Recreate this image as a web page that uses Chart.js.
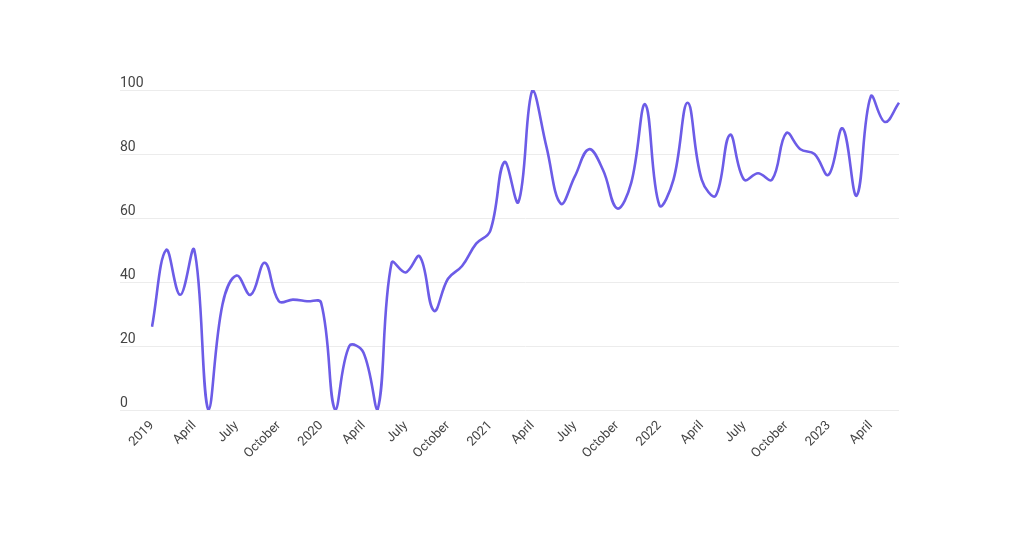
<!DOCTYPE html>
<html lang="en">
  <head>
    <meta charset="UTF-8" />
    <title>Monthly index 2019-2023</title>
    <script src="https://cdn.jsdelivr.net/npm/chart.js"></script>
    <style>
      body { margin: 0; background: #fff; }
    </style>
  </head>
  <body>
    <canvas id="trendChart" width="1024" height="536"></canvas>

    <script>
      // one entry per month, Jan 2019 .. Jun 2023
      const months = [
        "2019-01", "2019-02", "2019-03", "2019-04", "2019-05", "2019-06",
        "2019-07", "2019-08", "2019-09", "2019-10", "2019-11", "2019-12",
        "2020-01", "2020-02", "2020-03", "2020-04", "2020-05", "2020-06",
        "2020-07", "2020-08", "2020-09", "2020-10", "2020-11", "2020-12",
        "2021-01", "2021-02", "2021-03", "2021-04", "2021-05", "2021-06",
        "2021-07", "2021-08", "2021-09", "2021-10", "2021-11", "2021-12",
        "2022-01", "2022-02", "2022-03", "2022-04", "2022-05", "2022-06",
        "2022-07", "2022-08", "2022-09", "2022-10", "2022-11", "2022-12",
        "2023-01", "2023-02", "2023-03", "2023-04", "2023-05", "2023-06",
      ];

      const values = [
        26, 50, 36, 50, 0, 33, 42, 36, 46, 34, 34.5, 34,
        33.5, 0, 20, 18, 0, 46, 43, 48, 31, 41, 45, 52,
        56, 77.5, 65, 100, 82, 64.5, 73, 81.5, 75, 63, 71, 95.5,
        64, 72, 96, 72, 67, 86, 72, 74, 72, 86.5, 81.5, 80,
        73.5, 88, 67, 98, 90, 96,
      ];

      // shown on every third month
      const tickLabels = [
        "2019", "April", "July", "October",
        "2020", "April", "July", "October",
        "2021", "April", "July", "October",
        "2022", "April", "July", "October",
        "2023", "April",
      ];

      const yTicks = [0, 20, 40, 60, 80, 100];

      const ctx = document.getElementById("trendChart").getContext("2d");
      new Chart(ctx, {
        type: "line",
        data: {
          labels: months,
          datasets: [
            {
              data: values,
              borderColor: "#6c5ce7",
              borderWidth: 2.6,
              pointRadius: 0,
              tension: 0.4,
              fill: false,
            },
          ],
        },
        options: {
          responsive: false,
          animation: false,
          layout: { padding: { left: 120, right: 125, top: 90, bottom: 0 } },
          plugins: {
            legend: { display: false },
            tooltip: { enabled: false },
          },
          scales: {
            x: {
              grid: { display: false, drawTicks: false },
              border: { display: false },
              afterFit: (axis) => { axis.height = 126; },
              ticks: {
                autoSkip: false,
                maxRotation: 45,
                minRotation: 45,
                padding: 8,
                color: "#444",
                font: { family: "Roboto", size: 13 },
                callback: (v, i) => (i % 3 === 0 ? tickLabels[i / 3] : null),
              },
            },
            y: {
              min: 0,
              max: 100,
              afterBuildTicks: (axis) => {
                axis.ticks = yTicks.map((v) => ({ value: v }));
              },
              afterFit: (axis) => { axis.width = 32; },
              grid: { color: "#ececec", lineWidth: 1, tickLength: 32 },
              border: { display: false },
              ticks: {
                crossAlign: "far",
                labelOffset: -7,
                color: "#444",
                font: { family: "Roboto", size: 14 },
              },
            },
          },
        },
      });
    </script>
  </body>
</html>
